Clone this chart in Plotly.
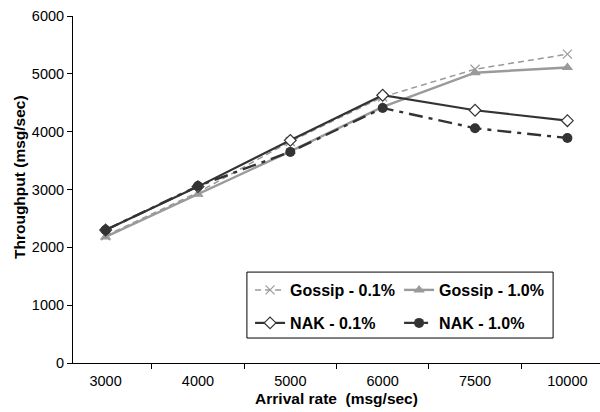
import plotly.graph_objects as go

# Arrival rate categories (msg/sec)
arrival_rates = ["3000", "4000", "5000", "6000", "7500", "10000"]

# Throughput (msg/sec) per protocol / loss rate
gossip_01 = [2200, 2950, 3830, 4600, 5080, 5340]
gossip_10 = [2180, 2920, 3660, 4430, 5020, 5110]
nak_01 = [2300, 3050, 3850, 4630, 4370, 4190]
nak_10 = [2300, 3060, 3650, 4410, 4060, 3890]

GRAY = "#9a9a9a"
DARK = "#333333"
FONT = "Liberation Sans, Arial, sans-serif"

fig = go.Figure()

fig.add_trace(go.Scatter(
    x=arrival_rates, y=gossip_01, name="Gossip - 0.1%", mode="lines+markers",
    line=dict(color=GRAY, width=1.5, dash="6px,4px"),
    marker=dict(symbol="x-thin", size=9, line=dict(color=GRAY, width=1.2)),
    legend="legend",
))
fig.add_trace(go.Scatter(
    x=arrival_rates, y=gossip_10, name="Gossip - 1.0%", mode="lines+markers",
    line=dict(color=GRAY, width=2.4),
    marker=dict(symbol="triangle-up", size=10, color=GRAY),
    legend="legend",
))
fig.add_trace(go.Scatter(
    x=arrival_rates, y=nak_01, name="NAK - 0.1%", mode="lines+markers",
    line=dict(color=DARK, width=2.2),
    marker=dict(symbol="diamond", size=9, color="white", line=dict(color=DARK, width=1.2)),
    legend="legend2",
))
fig.add_trace(go.Scatter(
    x=arrival_rates, y=nak_10, name="NAK - 1.0%", mode="lines+markers",
    line=dict(color=DARK, width=2.4, dash="14px,6px,4px,6px"),
    marker=dict(symbol="circle", size=10, color=DARK),
    legend="legend2",
))

legend_style = dict(
    orientation="h", xanchor="left", yanchor="middle", x=0.336,
    entrywidth=104, bgcolor="rgba(0,0,0,0)", borderwidth=0,
    font=dict(family=FONT, size=16, color="black", weight="bold"),
    itemwidth=30,
)

fig.update_layout(
    width=600, height=412,
    margin=dict(l=73, r=0, t=16, b=49, autoexpand=False),
    paper_bgcolor="white", plot_bgcolor="white",
    font=dict(family=FONT, size=14.5, color="black"),
    showlegend=True,
    legend=dict(legend_style, y=0.2104),
    legend2=dict(legend_style, y=0.1153),
    # frame around the two legend rows
    shapes=[dict(
        type="rect", xref="paper", yref="paper",
        x0=0.330, x1=0.911, y0=0.072, y1=0.262,
        line=dict(color="black", width=1), fillcolor="white", layer="above",
    )],
    xaxis=dict(
        type="category", showline=True, linecolor="black", linewidth=1,
        ticks="outside", tickson="boundaries", ticklen=5, tickcolor="black",
        ticklabelstandoff=5, showgrid=False, zeroline=False,
        title=dict(text="<b>Arrival rate  (msg/sec)</b>", font=dict(size=15.5), standoff=4),
    ),
    yaxis=dict(
        range=[0, 6000], dtick=1000, showline=True, linecolor="black", linewidth=1,
        ticks="outside", ticklen=5, tickcolor="black", showgrid=False, zeroline=False,
    ),
    annotations=[dict(
        text="<b>Throughput (msg/sec)</b>", textangle=-90, showarrow=False,
        xref="paper", yref="paper", x=0, y=0.536, xanchor="center", yanchor="middle",
        xshift=-54, font=dict(size=15.5),
    )],
)

fig.write_html("out.html")
